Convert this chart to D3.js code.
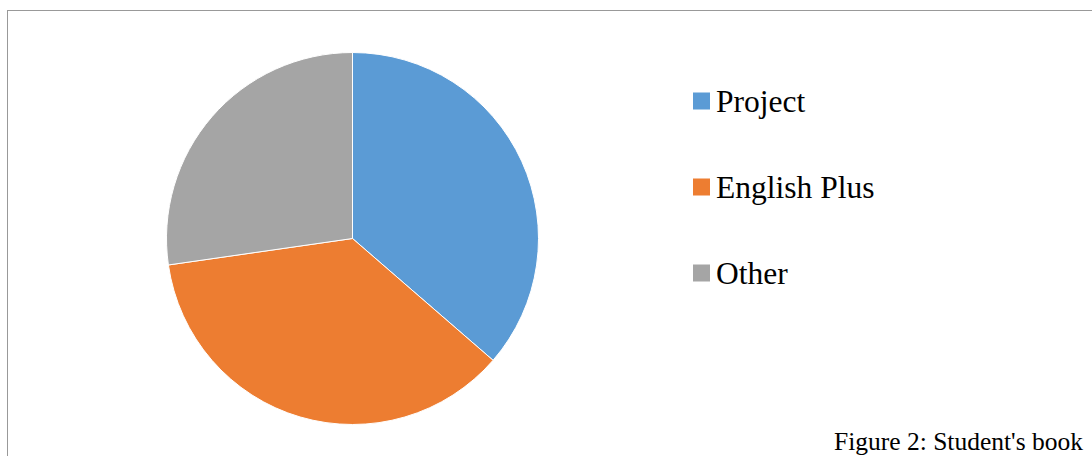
<!DOCTYPE html>
<html><head><meta charset="utf-8">
<script src="https://cdn.jsdelivr.net/npm/d3@7"></script>
<style>html,body{margin:0;padding:0;background:#fff;overflow:hidden}</style>
</head><body>
<svg id="c" width="1092" height="456"></svg>
<script>
const categories = ["Project", "English Plus", "Other"];
const values = [4, 4, 3];
const colors = ["#5B9BD5", "#ED7D31", "#A5A5A5"];
const caption = "Figure 2: Student's book";

const svg = d3.select("#c");
svg.append("rect").attr("x", 7.5).attr("y", 10.5).attr("width", 1100).attr("height", 460)
  .attr("fill", "#fff").attr("stroke", "#999").attr("stroke-width", 1);

const cx = 352.5, cy = 238.5, r = 186;
const pie = d3.pie().sort(null).value(d => d)(values);
const arc = d3.arc().innerRadius(0).outerRadius(r);
const color = d3.scaleOrdinal().domain(categories).range(colors);
const g = svg.append("g").attr("transform", `translate(${cx},${cy})`);
g.selectAll("path").data(pie).join("path")
  .attr("d", arc)
  .attr("fill", (d, i) => color(categories[i]))
  .attr("stroke", "#fff").attr("stroke-width", 1);

const ly = d3.scalePoint().domain(categories).range([101, 273]);
const leg = svg.append("g");
const items = leg.selectAll("g").data(categories).join("g")
  .attr("transform", d => `translate(693,${ly(d)})`);
items.append("rect").attr("x", 0).attr("y", -8.5).attr("width", 17).attr("height", 17)
  .attr("fill", d => color(d));
items.append("text").attr("x", 23).attr("y", 10.5)
  .attr("font-family", "'Liberation Serif', 'Times New Roman', serif")
  .attr("font-size", 31.5).attr("fill", "#000").text(d => d);

svg.append("text").attr("x", 834).attr("y", 449.5)
  .attr("font-family", "'Liberation Serif', 'Times New Roman', serif")
  .attr("font-size", 25.5).attr("fill", "#000").text(caption);
</script>
</body></html>
